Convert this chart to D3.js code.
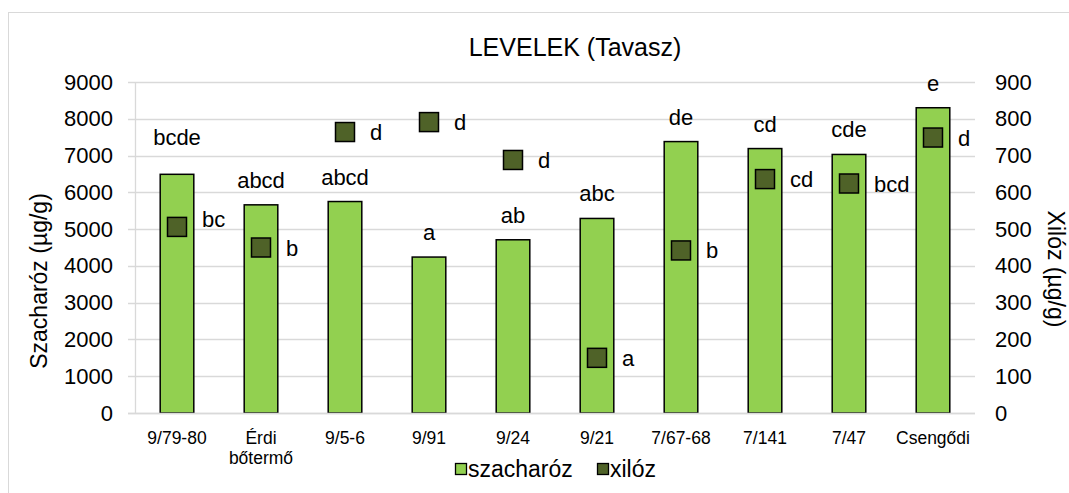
<!DOCTYPE html>
<html>
<head>
<meta charset="utf-8">
<script src="https://cdn.jsdelivr.net/npm/d3@7"></script>
<style>
  body { margin: 0; background: #fff; }
  text { font-family: "Liberation Sans", Arial, sans-serif; fill: #000; }
</style>
</head>
<body>
<div id="chart"></div>
<script>
// fajták (x tengely)
var categories = ["9/79-80", "Érdi\nbőtermő", "9/5-6", "9/91", "9/24", "9/21", "7/67-68", "7/141", "7/47", "Csengődi"];
// szacharóz, µg/g (bal tengely)
var szacharoz = [6490, 5660, 5750, 4240, 4710, 5290, 7380, 7190, 7030, 8300];
var szacharozBetu = ["bcde", "abcd", "abcd", "a", "ab", "abc", "de", "cd", "cde", "e"];
// xilóz, µg/g (jobb tengely)
var xiloz = [506, 450, 764, 791, 688, 150, 442, 636, 624, 749];
var xilozBetu = ["bc", "b", "d", "d", "d", "a", "b", "cd", "bcd", "d"];
var leftTicks = [0, 1000, 2000, 3000, 4000, 5000, 6000, 7000, 8000, 9000];
var rightTicks = [0, 100, 200, 300, 400, 500, 600, 700, 800, 900];

// a kézzel odébb tett címkék (pixel eltolás)
var barLabelNudge = { "9/79-80": -12 };
var markerLabelNudge = { "9/79-80": -8 };

var W = 1069, H = 493;
var plot = { left: 135, right: 975, top: 82, bottom: 413 };

var svg = d3.select("#chart").append("svg").attr("width", W).attr("height", H);

// chart border
svg.append("rect")
  .attr("x", 8.5).attr("y", 12.5)
  .attr("width", W + 20).attr("height", H + 20)
  .attr("fill", "none").attr("stroke", "#d9d9d9");

var x = d3.scaleBand().domain(categories).range([plot.left, plot.right])
  .paddingInner(0.6).paddingOuter(0.3);
var yL = d3.scaleLinear().domain([0, 9000]).range([plot.bottom, plot.top]);
var yR = d3.scaleLinear().domain([0, 900]).range([plot.bottom, plot.top]);
var cx = function(i) { return x(categories[i]) + x.bandwidth() / 2; };

// gridlines (with little outside ticks on the left)
svg.append("g").selectAll("line").data(leftTicks).join("line")
  .attr("x1", plot.left - 7).attr("x2", plot.right)
  .attr("y1", function(d) { return Math.round(yL(d)) + 0.5; })
  .attr("y2", function(d) { return Math.round(yL(d)) + 0.5; })
  .attr("stroke", "#d9d9d9").attr("stroke-width", 1.3);

svg.append("line")
  .attr("x1", plot.left + 0.5).attr("x2", plot.left + 0.5)
  .attr("y1", plot.top).attr("y2", plot.bottom)
  .attr("stroke", "#d9d9d9").attr("stroke-width", 1.3);

// left axis labels
var axL = d3.axisLeft(yL).tickValues(leftTicks).tickFormat(d3.format("d")).tickSize(0).tickPadding(0);
var gL = svg.append("g").attr("transform", "translate(113,0)").call(axL);
gL.select(".domain").remove();
gL.selectAll("text").style("font-size", "22px").attr("font-family", null);

// right axis labels
var axR = d3.axisRight(yR).tickValues(rightTicks).tickFormat(d3.format("d")).tickSize(0).tickPadding(0);
var gR = svg.append("g").attr("transform", "translate(995,0)").call(axR);
gR.select(".domain").remove();
gR.selectAll("text").style("font-size", "22px").attr("font-family", null);

// bars
svg.append("g").selectAll("rect").data(szacharoz).join("rect")
  .attr("x", function(d, i) { return x(categories[i]); })
  .attr("y", function(d) { return yL(d); })
  .attr("width", x.bandwidth())
  .attr("height", function(d) { return plot.bottom - yL(d); })
  .attr("fill", "#92d050").attr("stroke", "#000").attr("stroke-width", 1.5);

svg.append("g").selectAll("text").data(szacharozBetu).join("text")
  .attr("x", function(d, i) { return cx(i); })
  .attr("y", function(d, i) { return yL(szacharoz[i]) - 17 + (barLabelNudge[categories[i]] || 0); })
  .attr("text-anchor", "middle")
  .style("font-size", "22px")
  .text(function(d) { return d; });

// xilóz markers
var ms = 19;
svg.append("g").selectAll("rect").data(xiloz).join("rect")
  .attr("x", function(d, i) { return cx(i) - ms / 2; })
  .attr("y", function(d) { return yR(d) - ms / 2; })
  .attr("width", ms).attr("height", ms)
  .attr("fill", "#4f6228").attr("stroke", "#000").attr("stroke-width", 1.5);

svg.append("g").selectAll("text").data(xilozBetu).join("text")
  .attr("x", function(d, i) { return cx(i) + 25; })
  .attr("y", function(d, i) { return yR(xiloz[i]) + 8 + (markerLabelNudge[categories[i]] || 0); })
  .style("font-size", "22px")
  .text(function(d) { return d; });

// x axis baseline
svg.append("line")
  .attr("x1", plot.left - 7).attr("x2", plot.right)
  .attr("y1", plot.bottom + 0.5).attr("y2", plot.bottom + 0.5)
  .attr("stroke", "#d9d9d9").attr("stroke-width", 1.3);

// category labels
svg.append("g").selectAll("text").data(categories).join("text")
  .attr("x", function(d) { return x(d) + x.bandwidth() / 2; })
  .attr("y", 444)
  .attr("text-anchor", "middle")
  .style("font-size", "17.5px")
  .each(function(d) {
    var t = d3.select(this);
    d.split("\n").forEach(function(line, k) {
      t.append("tspan").attr("x", t.attr("x")).attr("dy", k ? 19.5 : 0).text(line);
    });
  });

// title
svg.append("text")
  .attr("x", 575).attr("y", 56)
  .attr("text-anchor", "middle")
  .style("font-size", "25px")
  .text("LEVELEK (Tavasz)");

// axis titles
svg.append("text")
  .attr("transform", "translate(47,281) rotate(-90)")
  .attr("text-anchor", "middle")
  .style("font-size", "23px")
  .text("Szacharóz (µg/g)");

svg.append("text")
  .attr("transform", "translate(1048,269) rotate(90)")
  .attr("text-anchor", "middle")
  .style("font-size", "23px")
  .text("Xilóz (µg/g)");

// legend
var legend = [
  { name: "szacharóz", color: "#92d050", x: 455 },
  { name: "xilóz", color: "#4f6228", x: 597 }
];
var lg = svg.append("g").selectAll("g").data(legend).join("g")
  .attr("transform", function(d) { return "translate(" + d.x + ",0)"; });
lg.append("rect")
  .attr("x", 0.5).attr("y", 463.5).attr("width", 11).attr("height", 11)
  .attr("fill", function(d) { return d.color; })
  .attr("stroke", "#000").attr("stroke-width", 1.3);
lg.append("text")
  .attr("x", 13).attr("y", 477)
  .style("font-size", "23px")
  .text(function(d) { return d.name; });
</script>
</body>
</html>
